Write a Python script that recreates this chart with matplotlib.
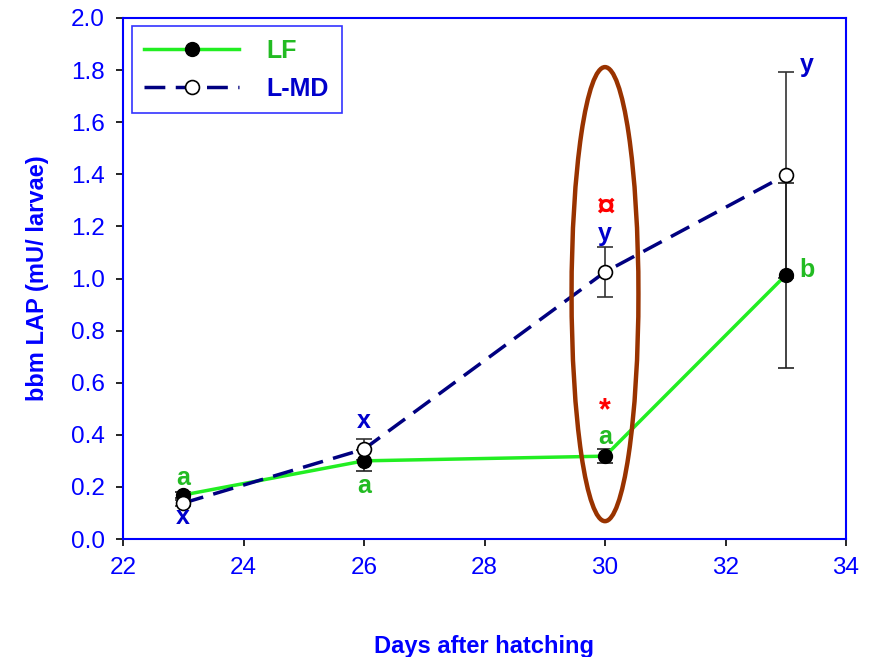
import matplotlib
matplotlib.use("Agg")
import matplotlib.pyplot as plt
from matplotlib.patches import Ellipse

plt.rcParams['font.family'] = ['Liberation Sans', 'DejaVu Sans']

days = [23, 26, 30, 33]
lf = [0.169, 0.300, 0.318, 1.013]
lf_err = [0.012, 0.040, 0.028, 0.355]
lmd = [0.138, 0.345, 1.025, 1.397]
lmd_err = [0.010, 0.040, 0.096, 0.396]

xticks = [22, 24, 26, 28, 30, 32, 34]
yticks = [0.0, 0.2, 0.4, 0.6, 0.8, 1.0, 1.2, 1.4, 1.6, 1.8, 2.0]

# annotation letters
labels_x = [23, 23, 26, 26, 30, 30, 30, 30, 33.35, 33.35]
labels_y = [0.234, 0.085, 0.453, 0.203, 1.27, 1.17, 0.49, 0.39, 1.82, 1.033]
labels_t = ['a', 'x', 'x', 'a', '¤', 'y', '*', 'a', 'y', 'b']
labels_c = ['#22BB22', '#0000CC', '#0000CC', '#22BB22', '#FF0000', '#0000CC',
            '#FF0000', '#22BB22', '#0000CC', '#22BB22']
labels_s = [18, 18, 18, 18, 24, 18, 22, 18, 18, 18]

blue = '#0000FF'
green_line = '#22EE22'
navy = '#000080'

fig = plt.figure(figsize=(8.76, 6.57), dpi=100)
ax = fig.add_axes([123/876, 1-539/657, (846-123)/876, (539-18)/657])

ax.errorbar(days, lmd, yerr=lmd_err, fmt='none', ecolor='#333333', elinewidth=1.2,
            capsize=6, capthick=1.2, zorder=2)
ax.errorbar(days, lf, yerr=lf_err, fmt='none', ecolor='#222222', elinewidth=1.2,
            capsize=6, capthick=1.2, zorder=2)
ax.plot(days, lf, '-', color=green_line, lw=2.5, marker='o', markersize=10,
        markerfacecolor='black', markeredgecolor='black', label='LF', zorder=3)
ax.plot(days, lmd, '--', color=navy, lw=2.5, dashes=(6, 3), marker='o', markersize=10,
        markerfacecolor='white', markeredgecolor='black', markeredgewidth=1.2,
        label='L-MD', zorder=4)

ell = Ellipse((30, 0.94), width=1.11, height=1.743, fill=False, edgecolor='#993300',
              lw=3.2, zorder=5)
ax.add_patch(ell)

for x, y, t, c, s in zip(labels_x, labels_y, labels_t, labels_c, labels_s):
    ax.text(x, y, t, color=c, fontsize=s, fontweight='bold', ha='center', va='center',
            zorder=6)

ax.set_xlim(22, 34)
ax.set_ylim(0, 2.0)
ax.set_xticks(xticks)
ax.set_yticks(yticks)
ax.set_yticklabels([f'{v:.1f}' for v in yticks])
ax.tick_params(direction='out', length=5, width=1.2, color='black', labelcolor=blue,
               labelsize=17.5, top=False, right=False, pad=8)
for s in ax.spines.values():
    s.set_color(blue)
    s.set_linewidth(1.5)

ax.set_xlabel('Days after hatching', color=blue, fontsize=17, fontweight='bold',
              labelpad=40)
ax.set_ylabel('bbm LAP (mU/ larvae)', color=blue, fontsize=17, fontweight='bold',
              labelpad=16)

leg = ax.legend(loc='upper left', bbox_to_anchor=(0.012, 0.984), fontsize=18,
                handlelength=3.8, frameon=True, fancybox=False, borderpad=0.5,
                labelspacing=0.55, handletextpad=1.1, borderaxespad=0)
leg.get_frame().set_edgecolor(blue)
leg.get_frame().set_linewidth(1.2)
for txt, c in zip(leg.get_texts(), ['#22BB22', '#0000CC']):
    txt.set_color(c)
    txt.set_fontweight('bold')

fig.savefig('out.png', dpi=100)
